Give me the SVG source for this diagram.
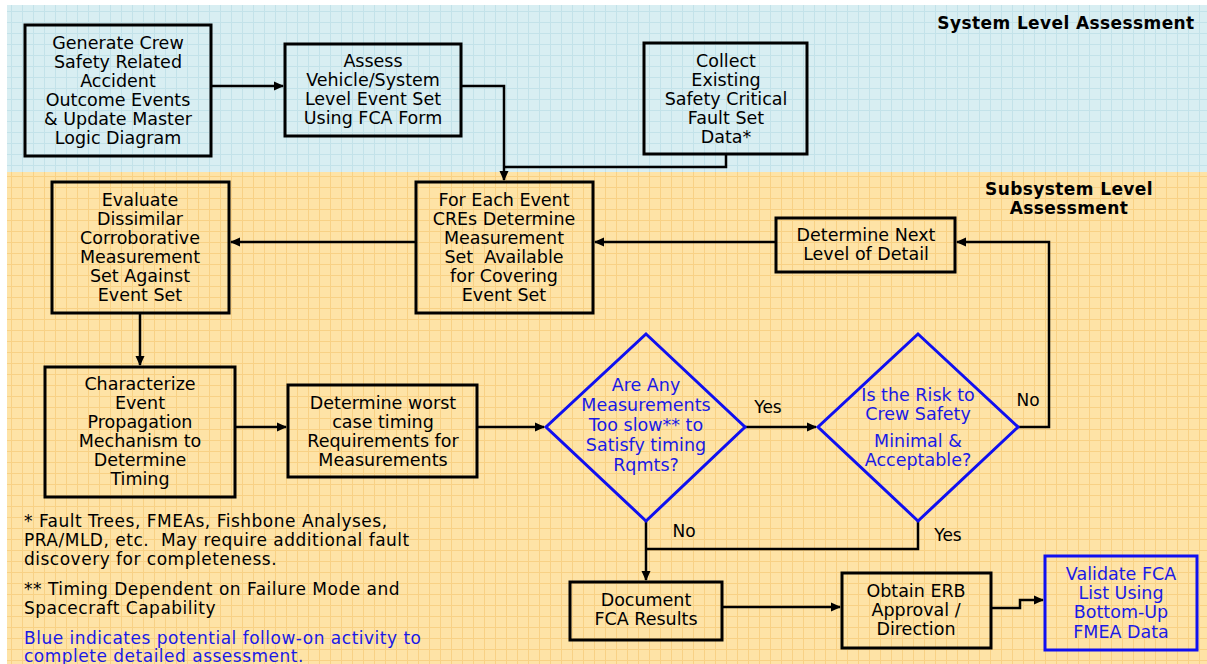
<svg xmlns="http://www.w3.org/2000/svg" width="1207" height="664" viewBox="0 0 1207 664">
<style>
.box{fill:none;stroke:#000;stroke-width:3}
.bbox{fill:none;stroke:#1010f0;stroke-width:3}
.dia{fill:none;stroke:#1010f0;stroke-width:3}
.t{font-family:"DejaVu Sans","Verdana",sans-serif;font-size:17.5px;fill:#000;text-anchor:middle}
.tb{font-family:"DejaVu Sans","Verdana",sans-serif;font-size:17.5px;fill:#1a1ae6;text-anchor:middle}
.lbl{font-family:"DejaVu Sans","Verdana",sans-serif;font-size:17px;fill:#000;text-anchor:middle}
.note{font-family:"DejaVu Sans","Verdana",sans-serif;font-size:17px;letter-spacing:0.5px;fill:#000}
.hd{font-family:"DejaVu Sans","Verdana",sans-serif;font-size:17px;letter-spacing:0.4px;font-weight:bold;fill:#000;text-anchor:middle}
.c{fill:none;stroke:#000;stroke-width:2.5}
</style>
<defs>
<pattern id="gb" width="11" height="11" patternUnits="userSpaceOnUse">
<rect width="11" height="11" fill="#d8eef2"/>
<path d="M0 0.5H11M0.5 0V11" stroke="#c3e2e9" stroke-width="1"/>
</pattern>
<pattern id="go" width="11" height="11" patternUnits="userSpaceOnUse">
<rect width="11" height="11" fill="#fee3a6"/>
<path d="M0 0.5H11M0.5 0V11" stroke="#f8d185" stroke-width="1"/>
</pattern>
<marker id="ah" markerWidth="10" markerHeight="10" refX="9" refY="5" orient="auto" markerUnits="userSpaceOnUse">
<path d="M0 0.5L10 5L0 9.5Z" fill="#000"/>
</marker>
</defs>
<rect x="0" y="0" width="1207" height="664" fill="#fff"/>
<rect x="7" y="5" width="1200" height="167" fill="url(#gb)"/>
<rect x="7" y="172" width="1200" height="492" fill="url(#go)"/>
<text class="hd" x="1066" y="29">System Level Assessment</text>
<text class="hd" x="1069" y="195">Subsystem Level</text>
<text class="hd" x="1069" y="214">Assessment</text>

<g id="connectors">
<path class="c" d="M212 86H283" marker-end="url(#ah)"/>
<path class="c" d="M462 86H504V180" marker-end="url(#ah)"/>
<path class="c" d="M726 154V167H504"/>
<path class="c" d="M416 242H231" marker-end="url(#ah)"/>
<path class="c" d="M776 242H595" marker-end="url(#ah)"/>
<path class="c" d="M140 313V365" marker-end="url(#ah)"/>
<path class="c" d="M235 427H286" marker-end="url(#ah)"/>
<path class="c" d="M477 427H544" marker-end="url(#ah)"/>
<path class="c" d="M745 427H816" marker-end="url(#ah)"/>
<path class="c" d="M1018 427H1049V242H957" marker-end="url(#ah)"/>
<path class="c" d="M646 521V580" marker-end="url(#ah)"/>
<path class="c" d="M918 521V549H646"/>
<path class="c" d="M722 607H840" marker-end="url(#ah)"/>
<path class="c" d="M991 608H1020V600H1043" marker-end="url(#ah)"/>
<text class="lbl" x="768" y="413">Yes</text>
<text class="lbl" x="1028" y="406">No</text>
<text class="lbl" x="684" y="537">No</text>
<text class="lbl" x="948" y="541">Yes</text>
</g>

<g id="n1"><rect class="box" x="25" y="25" width="186" height="131"/>
<text class="t" x="118" y="49">Generate Crew</text>
<text class="t" x="118" y="68">Safety Related</text>
<text class="t" x="118" y="87">Accident</text>
<text class="t" x="118" y="106">Outcome Events</text>
<text class="t" x="118" y="125">&amp; Update Master</text>
<text class="t" x="118" y="144">Logic Diagram</text></g>

<g id="n2"><rect class="box" x="285" y="44" width="176" height="92"/>
<text class="t" x="373" y="67">Assess</text>
<text class="t" x="373" y="86">Vehicle/System</text>
<text class="t" x="373" y="105">Level Event Set</text>
<text class="t" x="373" y="124">Using FCA Form</text></g>

<g id="n3"><rect class="box" x="644" y="43" width="163" height="111"/>
<text class="t" x="726" y="67">Collect</text>
<text class="t" x="726" y="86">Existing</text>
<text class="t" x="726" y="105">Safety Critical</text>
<text class="t" x="726" y="124">Fault Set</text>
<text class="t" x="726" y="143">Data*</text></g>

<g id="n4"><rect class="box" x="416" y="182" width="177" height="131"/>
<text class="t" x="504" y="206">For Each Event</text>
<text class="t" x="504" y="225">CREs Determine</text>
<text class="t" x="504" y="244">Measurement</text>
<text class="t" x="504" y="263" xml:space="preserve">Set  Available</text>
<text class="t" x="504" y="282">for Covering</text>
<text class="t" x="504" y="301">Event Set</text></g>

<g id="n5"><rect class="box" x="52" y="182" width="177" height="131"/>
<text class="t" x="140" y="206">Evaluate</text>
<text class="t" x="140" y="225">Dissimilar</text>
<text class="t" x="140" y="244">Corroborative</text>
<text class="t" x="140" y="263">Measurement</text>
<text class="t" x="140" y="282">Set Against</text>
<text class="t" x="140" y="301">Event Set</text></g>

<g id="n6"><rect class="box" x="776" y="218" width="179" height="54"/>
<text class="t" x="866" y="241">Determine Next</text>
<text class="t" x="866" y="260">Level of Detail</text></g>

<g id="n7"><rect class="box" x="45" y="367" width="190" height="130"/>
<text class="t" x="140" y="390">Characterize</text>
<text class="t" x="140" y="409">Event</text>
<text class="t" x="140" y="428">Propagation</text>
<text class="t" x="140" y="447">Mechanism to</text>
<text class="t" x="140" y="466">Determine</text>
<text class="t" x="140" y="485">Timing</text></g>

<g id="n8"><rect class="box" x="288" y="385" width="189" height="92"/>
<text class="t" x="383" y="409">Determine worst</text>
<text class="t" x="383" y="428">case timing</text>
<text class="t" x="383" y="447">Requirements for</text>
<text class="t" x="383" y="466">Measurements</text></g>

<g id="n9"><path class="dia" d="M646 334L745 427L646 521L546 427Z"/>
<text class="tb" x="646" y="391">Are Any</text>
<text class="tb" x="646" y="411">Measurements</text>
<text class="tb" x="646" y="431">Too slow** to</text>
<text class="tb" x="646" y="451">Satisfy timing</text>
<text class="tb" x="646" y="471">Rqmts?</text></g>

<g id="n10"><path class="dia" d="M918 334L1018 427L918 521L818 427Z"/>
<text class="tb" x="918" y="401">Is the Risk to</text>
<text class="tb" x="918" y="420">Crew Safety</text>
<text class="tb" x="918" y="447">Minimal &amp;</text>
<text class="tb" x="918" y="466">Acceptable?</text></g>

<g id="n11"><rect class="box" x="570" y="582" width="152" height="58"/>
<text class="t" x="646" y="606">Document</text>
<text class="t" x="646" y="625">FCA Results</text></g>

<g id="n12"><rect class="box" x="842" y="573" width="149" height="75"/>
<text class="t" x="916" y="597">Obtain ERB</text>
<text class="t" x="916" y="616">Approval /</text>
<text class="t" x="916" y="635">Direction</text></g>

<g id="n13"><rect class="bbox" x="1045" y="556" width="152" height="94"/>
<text class="tb" x="1121" y="580">Validate FCA</text>
<text class="tb" x="1121" y="599">List Using</text>
<text class="tb" x="1121" y="618">Bottom-Up</text>
<text class="tb" x="1121" y="638">FMEA Data</text></g>

<g id="notes">
<text class="note" x="24" y="527">* Fault Trees, FMEAs, Fishbone Analyses,</text>
<text class="note" x="24" y="546" xml:space="preserve">PRA/MLD, etc.  May require additional fault</text>
<text class="note" x="24" y="565">discovery for completeness.</text>
<text class="note" x="24" y="595">** Timing Dependent on Failure Mode and</text>
<text class="note" x="24" y="614">Spacecraft Capability</text>
<text class="note" x="24" y="644" style="fill:#1a1ae6">Blue indicates potential follow-on activity to</text>
<text class="note" x="24" y="662" style="fill:#1a1ae6">complete detailed assessment.</text>
</g>
</svg>
